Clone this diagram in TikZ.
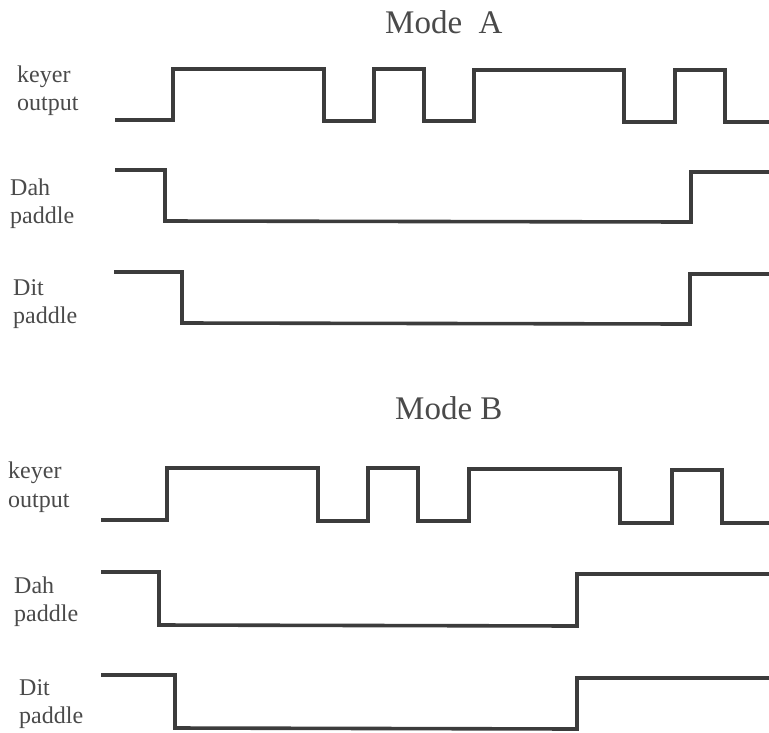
\documentclass[tikz,border=0pt]{standalone}
\usepackage{fontspec}
\setmainfont{Liberation Serif}
\definecolor{ink}{HTML}{3C3C3C}
\definecolor{txt}{HTML}{4A4A4A}
\begin{document}
\begin{tikzpicture}[x=1pt,y=-1pt,
  wave/.style={draw=ink,line width=3.6pt,line join=miter,line cap=butt},
  lbl/.style={anchor=base west,inner sep=0pt,text=txt,font=\fontsize{24}{24}\selectfont},
  ttl/.style={anchor=base west,inner sep=0pt,text=txt,font=\fontsize{33}{33}\selectfont}]
\useasboundingbox (0,0) rectangle (769,732);
% Mode A
\node[ttl] (ta) at (385,33) {Mode\ \ A};
\node[lbl] (ka1) at (17,82) {keyer};
\node[lbl] (ka2) at (17,110) {output};
\node[lbl] (da1) at (10,195) {Dah};
\node[lbl] (da2) at (10,223) {paddle};
\node[lbl] (ia1) at (13,295) {Dit};
\node[lbl] (ia2) at (13,323) {paddle};
\draw[wave] (115,120) -- (173,120) -- (173,69) -- (324,69) -- (324,121) -- (374,121) -- (374,69) -- (424,69) -- (424,121) -- (474,121) -- (474,70) -- (624,70) -- (624,122) -- (675,122) -- (675,70) -- (725,70) -- (725,122) -- (770,122);
\draw[wave] (115,170) -- (165,170) -- (165,221) -- (691,222) -- (691,172) -- (770,172);
\draw[wave] (114,272) -- (182,272) -- (182,323) -- (690,324) -- (690,274) -- (770,274);
% Mode B
\node[ttl] (tb) at (395,419) {Mode B};
\node[lbl] (kb1) at (8,478) {keyer};
\node[lbl] (kb2) at (8,507) {output};
\node[lbl] (db1) at (14,593) {Dah};
\node[lbl] (db2) at (14,621) {paddle};
\node[lbl] (ib1) at (19,695) {Dit};
\node[lbl] (ib2) at (19,723) {paddle};
\draw[wave] (101,520) -- (167,520) -- (167,468) -- (318,468) -- (318,521) -- (368,521) -- (368,468) -- (418,468) -- (418,521) -- (469,521) -- (469,469) -- (620,469) -- (620,523) -- (672,523) -- (672,470) -- (722,470) -- (722,523) -- (770,523);
\draw[wave] (101,572) -- (159,572) -- (159,625) -- (577,626) -- (577,574) -- (770,574);
\draw[wave] (101,675) -- (175,675) -- (175,728) -- (577,729) -- (577,678) -- (770,678);
\end{tikzpicture}
\end{document}
